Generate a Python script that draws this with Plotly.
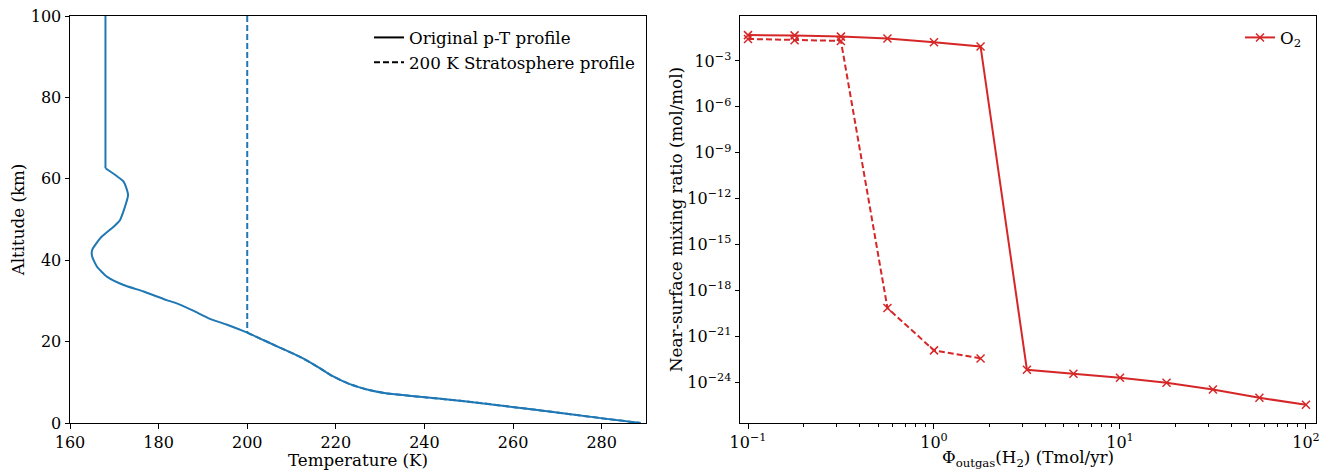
import plotly.graph_objects as go

# ---- Left panel: p-T profiles ----
alt_orig = [100, 62.6, 59.3, 56.0, 49.9, 48.6, 47.9, 45.5, 42.5, 40.9, 38.4, 35.9, 33.9, 32.3, 30.2,
            29.4, 27.6, 25.6, 24.2, 22.2, 20.8, 18.9, 16.3, 14.0, 11.5, 9.6, 8.3, 7.3, 6.7,
            5.3, 3.3, 1.2, 0.0]
T_orig = [168.0, 168.0, 172.1, 173.1, 171.3, 170.2, 169.5, 166.9, 165.0, 165.0, 166.1, 168.4, 172.1, 176.6, 181.8,
          184.1, 187.8, 191.6, 195.3, 200.0, 202.8, 206.6, 211.8, 215.6, 219.3, 223.0, 226.8, 231.3, 236.5,
          249.5, 264.6, 279.8, 288.8]

alt_strat = [100, 22.2, 20.8, 18.9, 16.3, 14.0, 11.5, 9.6, 8.3, 7.3, 6.7, 5.3, 3.3, 1.2, 0.0]
T_strat = [200.0, 200.0, 202.8, 206.6, 211.8, 215.6, 219.3, 223.0, 226.8, 231.3, 236.5, 249.5, 264.6, 279.8, 288.8]

# ---- Right panel: O2 vs H2 outgassing ----
flux = [0.1, 0.178, 0.316, 0.562, 1.0, 1.78, 3.16, 5.62, 10, 17.8, 31.6, 56.2, 100]
o2_orig = [4.9e-2, 4.7e-2, 3.9e-2, 2.9e-2, 1.66e-2, 8.9e-3, 6.3e-24, 3.5e-24, 1.9e-24, 8.9e-25,
           3.2e-25, 9.3e-26, 3.3e-26]
flux_strat = [0.1, 0.178, 0.316, 0.562, 1.0, 1.78]
o2_strat = [2.75e-2, 2.24e-2, 2.04e-2, 6.9e-20, 1.17e-22, 3.5e-23]

left_xticks = [160, 180, 200, 220, 240, 260, 280]
left_yticks = [0, 20, 40, 60, 80, 100]
right_xticks = [0.1, 1, 10, 100]
right_xtext = ["10<sup>−1</sup>", "10<sup>0</sup>", "10<sup>1</sup>", "10<sup>2</sup>"]
right_xminor = [m * d for d in (0.1, 1, 10) for m in range(2, 10)]
right_yticks = [1e-24, 1e-21, 1e-18, 1e-15, 1e-12, 1e-9, 1e-6, 1e-3]
right_ytext = ["10<sup>−24</sup>", "10<sup>−21</sup>", "10<sup>−18</sup>", "10<sup>−15</sup>",
               "10<sup>−12</sup>", "10<sup>−9</sup>", "10<sup>−6</sup>", "10<sup>−3</sup>"]

BLUE = "#1f77b4"
RED = "#d62728"
FONT = "DejaVu Serif"
FS = 16.7
TFS = 16

fig = go.Figure()

# isothermal upper part drawn straight, the rest smoothed
fig.add_trace(go.Scatter(x=T_orig[:2], y=alt_orig[:2], mode="lines",
                         line=dict(color=BLUE, width=2),
                         showlegend=False, xaxis="x", yaxis="y"))
fig.add_trace(go.Scatter(x=T_orig[1:], y=alt_orig[1:], mode="lines",
                         line=dict(color=BLUE, width=2, shape="spline", smoothing=0.5),
                         showlegend=False, xaxis="x", yaxis="y"))
fig.add_trace(go.Scatter(x=T_strat[:2], y=alt_strat[:2], mode="lines",
                         line=dict(color=BLUE, width=2, dash="6px,3px"),
                         showlegend=False, xaxis="x", yaxis="y"))
fig.add_trace(go.Scatter(x=T_strat[1:], y=alt_strat[1:], mode="lines",
                         line=dict(color=BLUE, width=2, dash="6px,3px", shape="spline", smoothing=0.5),
                         showlegend=False, xaxis="x", yaxis="y"))
# legend proxies
fig.add_trace(go.Scatter(x=[None], y=[None], mode="lines", line=dict(color="black", width=2),
                         name="Original p-T profile", legend="legend", xaxis="x", yaxis="y"))
fig.add_trace(go.Scatter(x=[None], y=[None], mode="lines", line=dict(color="black", width=2, dash="6px,3px"),
                         name="200 K Stratosphere profile", legend="legend", xaxis="x", yaxis="y"))

mk = dict(symbol="x-thin", size=8, line=dict(color=RED, width=1.5), color=RED)
fig.add_trace(go.Scatter(x=flux, y=o2_orig, mode="lines+markers", line=dict(color=RED, width=2),
                         marker=mk, name="O<sub>2</sub>", legend="legend2", xaxis="x2", yaxis="y2"))
fig.add_trace(go.Scatter(x=flux_strat, y=o2_strat, mode="lines+markers",
                         line=dict(color=RED, width=2, dash="6px,3px"),
                         marker=mk, showlegend=False, xaxis="x2", yaxis="y2"))

axis_common = dict(showline=True, linecolor="black", linewidth=1, mirror=True, ticks="outside",
                   ticklen=4.5, tickcolor="black", showgrid=False, zeroline=False, automargin=False,
                   tickfont=dict(family=FONT, size=TFS, color="black"))

L, R = 70, 1316
W = R - L
d1 = [0, (646 - L) / W]
d2 = [(740 - L) / W, 1]

fig.update_layout(
    width=1328, height=470,
    margin=dict(l=L, r=1328 - R, t=16, b=47),
    paper_bgcolor="white", plot_bgcolor="white",
    font=dict(family=FONT, size=FS, color="black"),
    xaxis=dict(domain=d1, range=[160, 290], tickvals=left_xticks, anchor="y",
               title=dict(text="Temperature (K)", standoff=3, font=dict(family=FONT, size=FS)),
               **axis_common),
    yaxis=dict(domain=[0, 1], range=[0, 100], tickvals=left_yticks, anchor="x",
               title=dict(text="Altitude (km)", standoff=1, font=dict(family=FONT, size=FS)),
               **axis_common),
    xaxis2=dict(domain=d2, type="log", range=[-1.043, 2.054], tickvals=right_xticks, ticktext=right_xtext,
                anchor="y2",
                minor=dict(tickvals=right_xminor, ticks="outside", ticklen=2.5, tickcolor="black",
                           showgrid=False),
                title=dict(text="Φ<sub>outgas</sub>(H<sub>2</sub>) (Tmol/yr)", standoff=3,
                           font=dict(family=FONT, size=FS)),
                **axis_common),
    yaxis2=dict(domain=[0, 1], type="log", range=[-26.68, -0.06], tickvals=right_yticks, ticktext=right_ytext,
                anchor="x2",
                title=dict(text="Near-surface mixing ratio (mol/mol)", standoff=0,
                           font=dict(family=FONT, size=FS)),
                **axis_common),
    legend=dict(x=(369 - L) / W, y=0.99, xanchor="left", yanchor="top", bgcolor="rgba(0,0,0,0)",
                font=dict(family=FONT, size=FS), tracegroupgap=0),
    legend2=dict(x=(1240 - L) / W, y=0.99, xanchor="left", yanchor="top", bgcolor="rgba(0,0,0,0)",
                 font=dict(family=FONT, size=FS)),
)

fig.write_html("out.html")
